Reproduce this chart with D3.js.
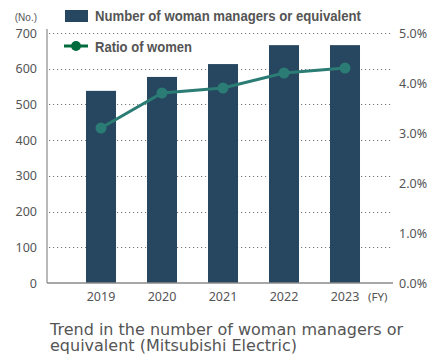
<!DOCTYPE html>
<html>
<head>
<meta charset="utf-8">
<script src="https://cdn.jsdelivr.net/npm/d3@7"></script>
<style>
  html, body { margin: 0; padding: 0; background: #fff; }
  svg { display: block; }
</style>
</head>
<body>
<svg id="chart" width="429" height="361"></svg>
<script>
// Fiscal years and series
const years = ["2019", "2020", "2021", "2022", "2023"];
const managers = [538, 577, 613, 666, 666];      // number of woman managers or equivalent
const ratioPct = [3.1, 3.8, 3.9, 4.2, 4.3];        // ratio of women (%)
const leftTicks = [0, 100, 200, 300, 400, 500, 600, 700];
const rightTicks = [0, 1, 2, 3, 4, 5];
const legendLabels = ["Number of woman managers or equivalent", "Ratio of women"];
const captionLines = ["Trend in the number of woman managers or", "equivalent (Mitsubishi Electric)"];

const barColor = "#27465f";
const lineColor = "#2a7c74";
const legendGreen = "#006b3c";
const textColor = "#555";
const axisColor = "#8a8a8a";
const tickFont = "'Noto Sans', 'Open Sans', sans-serif";
const captionFont = "'DejaVu Sans', Verdana, sans-serif";
const narrowFont = "'Liberation Sans Narrow', 'Arial Narrow', 'Liberation Sans', Arial, sans-serif";

const svg = d3.select("#chart");

const plot = { left: 47, right: 393, top: 33, bottom: 283 };

const x = d3.scaleBand()
  .domain(years)
  .range([70.5, 375.5])
  .paddingInner(0.508)
  .paddingOuter(0.254);

const yLeft = d3.scaleLinear().domain([0, 700]).range([plot.bottom, plot.top]);
const yRight = d3.scaleLinear().domain([0, 5]).range([plot.bottom, plot.top]);

// dotted gridlines
svg.append("g")
  .selectAll("line")
  .data(leftTicks.filter(d => d > 0))
  .join("line")
  .attr("x1", plot.left + 2)
  .attr("x2", plot.right)
  .attr("y1", d => Math.round(yLeft(d)) + 0.5)
  .attr("y2", d => Math.round(yLeft(d)) + 0.5)
  .attr("stroke", "#7a7a7a")
  .attr("stroke-width", 1)
  .attr("stroke-dasharray", "1.2,2.8");

// bars
svg.append("g")
  .selectAll("rect")
  .data(years.map((y, i) => ({ year: y, v: managers[i] })))
  .join("rect")
  .attr("x", d => x(d.year))
  .attr("width", x.bandwidth())
  .attr("y", d => yLeft(d.v))
  .attr("height", d => yLeft(0) - yLeft(d.v))
  .attr("fill", barColor);

// axes lines
svg.append("line")
  .attr("x1", plot.left).attr("x2", plot.left)
  .attr("y1", 29).attr("y2", plot.bottom)
  .attr("stroke", axisColor).attr("stroke-width", 1.2);
svg.append("line")
  .attr("x1", plot.left).attr("x2", plot.right)
  .attr("y1", plot.bottom).attr("y2", plot.bottom)
  .attr("stroke", axisColor).attr("stroke-width", 1.5);

// left axis labels
const leftAxis = d3.axisLeft(yLeft).tickValues(leftTicks).tickSize(0).tickPadding(10);
const gl = svg.append("g").attr("transform", `translate(${plot.left},0)`).call(leftAxis);
gl.select(".domain").remove();
gl.selectAll("text")
  .attr("fill", textColor)
  .style("font-family", tickFont)
  .style("font-size", "12.5px");

// right axis labels
const rightAxis = d3.axisRight(yRight).tickValues(rightTicks).tickSize(0).tickPadding(6)
  .tickFormat(d => d.toFixed(1) + "%");
const gr = svg.append("g").attr("transform", `translate(${plot.right},0)`).call(rightAxis);
gr.select(".domain").remove();
gr.selectAll("text")
  .attr("fill", textColor)
  .style("font-family", tickFont)
  .style("font-size", "12.5px");

// bottom axis labels
const bottomAxis = d3.axisBottom(x).tickSize(0).tickPadding(9);
const gb = svg.append("g").attr("transform", `translate(0,${plot.bottom})`).call(bottomAxis);
gb.select(".domain").remove();
gb.selectAll("text")
  .attr("fill", textColor)
  .style("font-family", tickFont)
  .style("font-size", "12.5px");

svg.append("text")
  .attr("x", 368).attr("y", 301)
  .attr("fill", textColor)
  .style("font-family", tickFont)
  .style("font-size", "11.5px")
  .text("(FY)");

svg.append("text")
  .attr("x", 37).attr("y", 21)
  .attr("text-anchor", "end")
  .attr("fill", textColor)
  .style("font-family", narrowFont)
  .style("font-size", "10px")
  .text("(No.)");

// ratio line
const pts = years.map((y, i) => ({ year: y, v: ratioPct[i] }));
const line = d3.line()
  .x(d => x(d.year) + x.bandwidth() / 2)
  .y(d => yRight(d.v));
svg.append("path")
  .datum(pts)
  .attr("d", line)
  .attr("fill", "none")
  .attr("stroke", lineColor)
  .attr("stroke-width", 3);
svg.append("g")
  .selectAll("circle")
  .data(pts)
  .join("circle")
  .attr("cx", d => x(d.year) + x.bandwidth() / 2)
  .attr("cy", d => yRight(d.v))
  .attr("r", 5.5)
  .attr("fill", lineColor);

// legend
const lg = svg.append("g");
lg.append("rect")
  .attr("x", 65).attr("y", 10).attr("width", 23).attr("height", 12)
  .attr("fill", barColor);
lg.append("text")
  .attr("x", 95).attr("y", 21)
  .attr("fill", textColor)
  .attr("textLength", 266).attr("lengthAdjust", "spacingAndGlyphs")
  .style("font-family", narrowFont)
  .style("font-weight", "bold")
  .style("font-size", "15px")
  .text(legendLabels[0]);
lg.append("line")
  .attr("x1", 64).attr("x2", 88).attr("y1", 46).attr("y2", 46)
  .attr("stroke", legendGreen).attr("stroke-width", 3);
lg.append("circle")
  .attr("cx", 76).attr("cy", 46).attr("r", 5)
  .attr("fill", legendGreen);
lg.append("text")
  .attr("x", 95).attr("y", 51.5)
  .attr("fill", textColor)
  .attr("textLength", 97).attr("lengthAdjust", "spacingAndGlyphs")
  .style("font-family", narrowFont)
  .style("font-weight", "bold")
  .style("font-size", "15px")
  .text(legendLabels[1]);

// caption
svg.append("g")
  .selectAll("text")
  .data(captionLines)
  .join("text")
  .attr("x", 50)
  .attr("y", (d, i) => 335 + i * 16)
  .attr("fill", textColor)
  .style("font-family", captionFont)
  .style("font-size", "16px")
  .text(d => d);
</script>
</body>
</html>
